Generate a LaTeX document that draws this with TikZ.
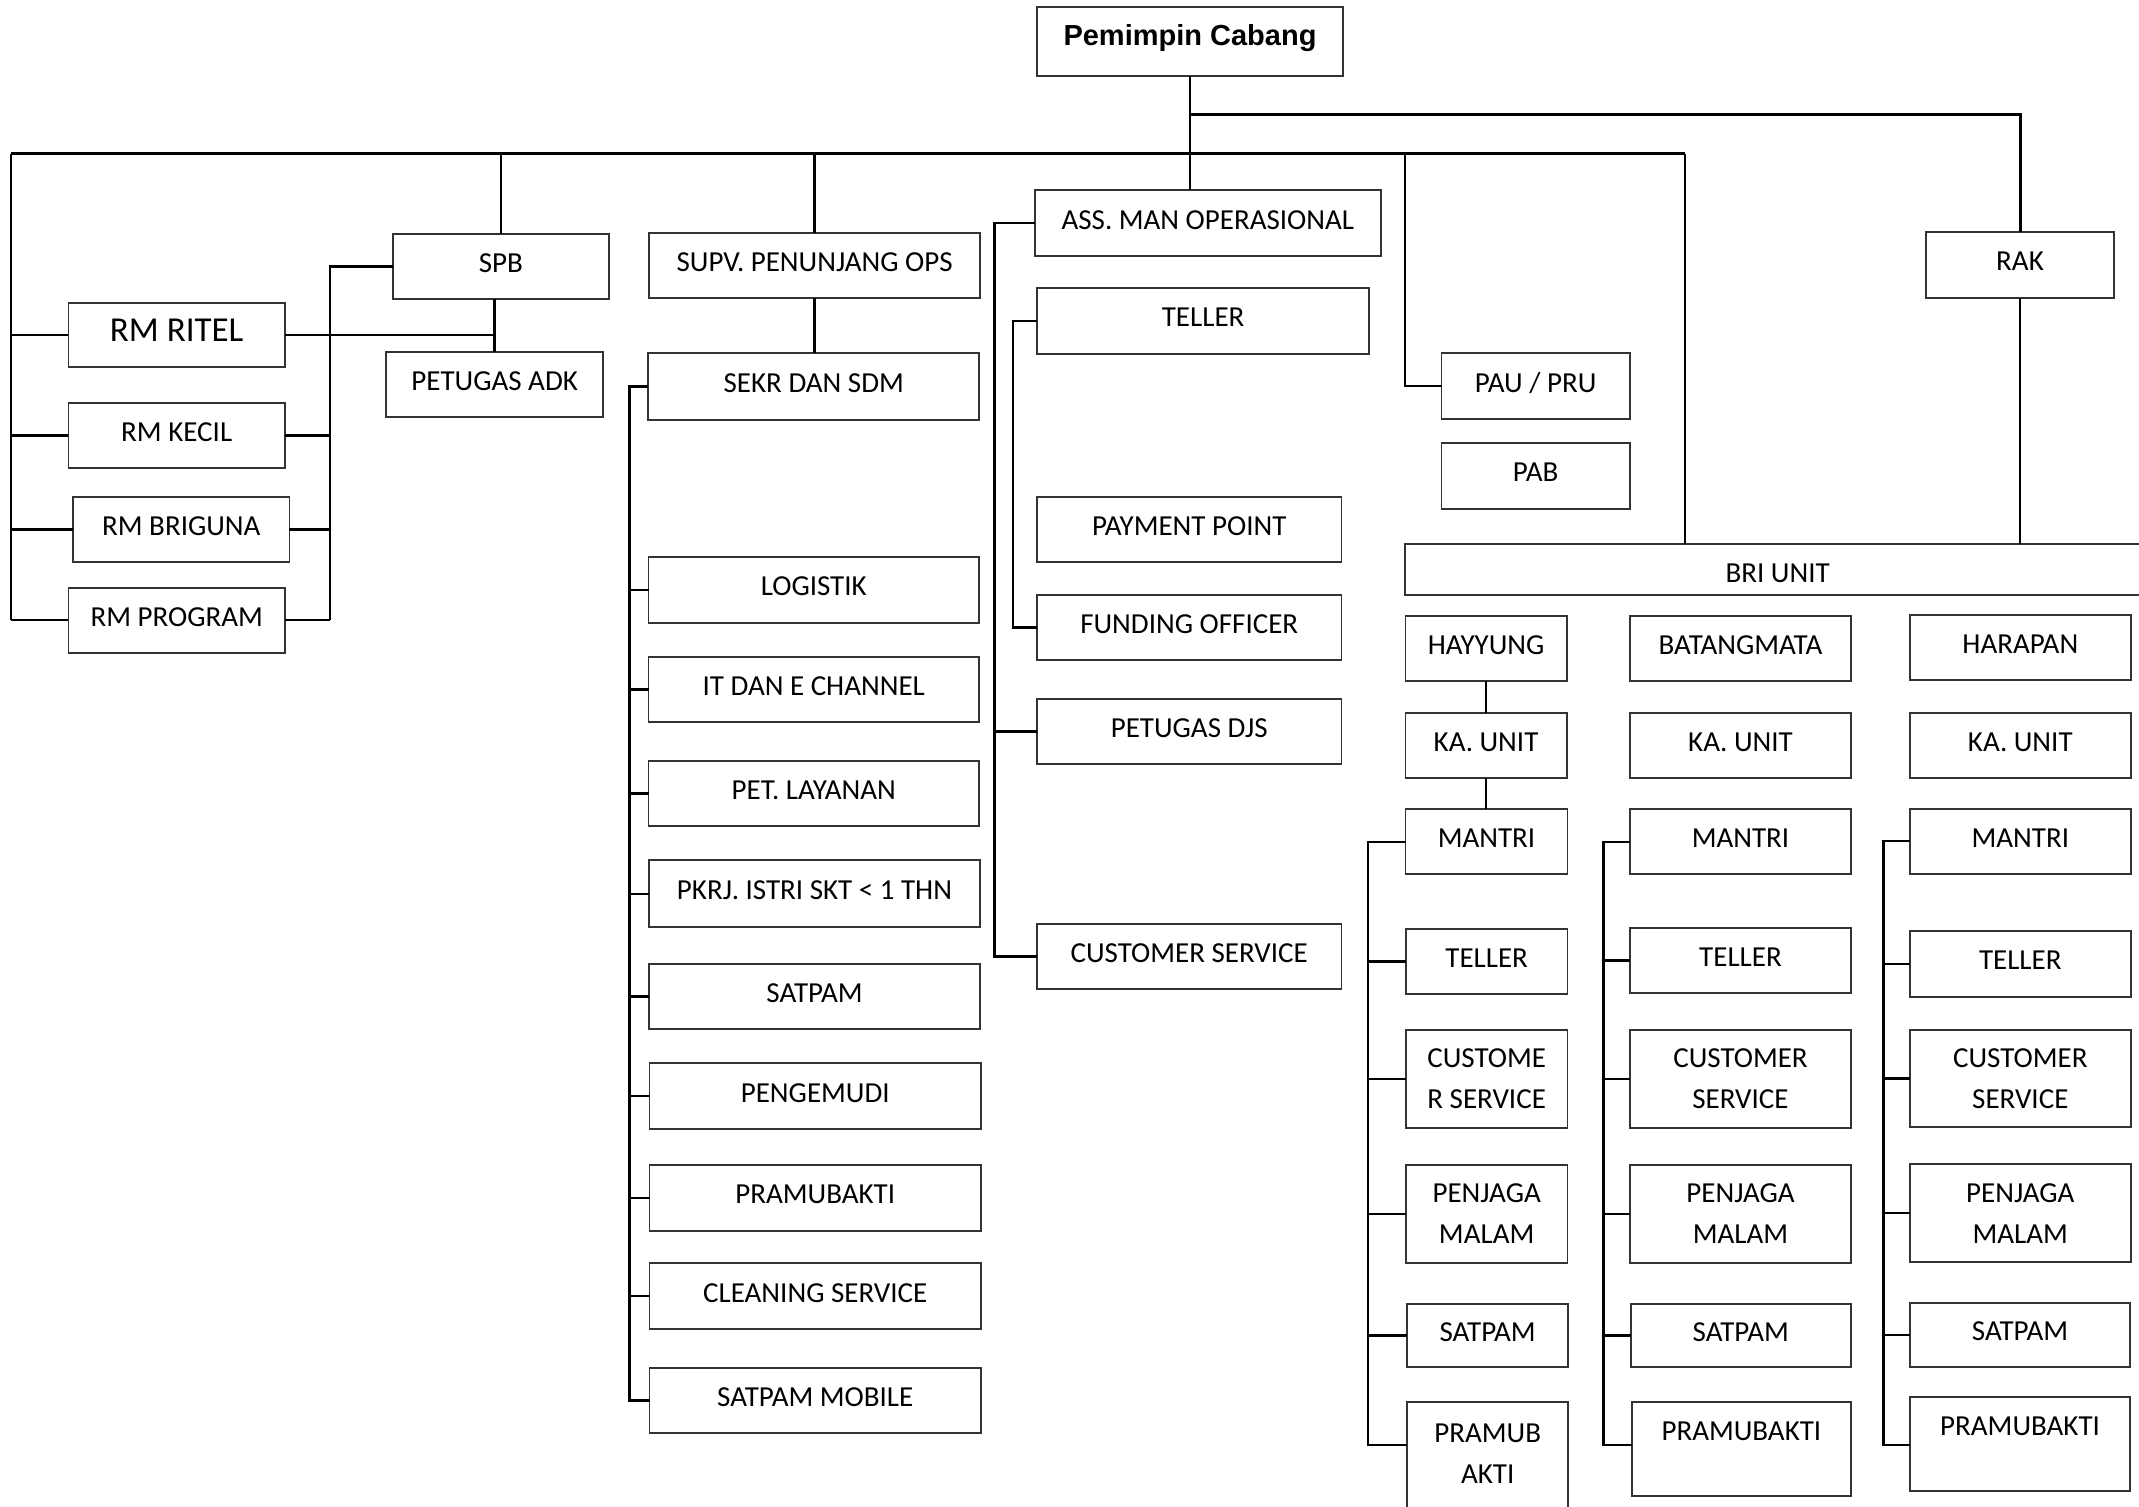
\documentclass[tikz,border=0pt]{standalone}
\usepackage{fontspec}
\setmainfont{Carlito}
\newfontfamily\arialfont{Liberation Sans}
\tikzset{
  box/.style={draw=black!80, line width=1.8pt, fill=white, rectangle, inner sep=0pt, outer sep=0pt,
    font=\fontsize{29}{41}\selectfont, align=center},
  one/.style={text height=18.7pt, text depth=7pt},
  conn/.style={line width=2.4pt, line join=miter},
  bar/.style={line width=3pt, line join=miter},
}
\newcommand\mkbox[7][]{%
  \pgfmathsetmacro\bxw{#5-#3}\pgfmathsetmacro\bxh{#6-#4}%
  \pgfmathsetmacro\bxcx{(#3+#5)/2}\pgfmathsetmacro\bxcy{(#4+#6)/2}%
  \node[box,minimum width=\bxw pt,minimum height=\bxh pt,#1] (#2) at (\bxcx,\bxcy) {#7};}
\begin{document}
\begin{tikzpicture}[x=1pt,y=-1pt]
\useasboundingbox (0,0) rectangle (2139,1507);
% ---------- boxes ----------
\mkbox[font=\arialfont\bfseries\fontsize{29}{33}\selectfont, text height=20.8pt, text depth=12pt]{pc}{1037}{7}{1343}{76}{Pemimpin Cabang}
% left group
\mkbox[font=\fontsize{35}{40}\selectfont, text height=22.5pt, text depth=9pt]{rmritel}{68.4}{303}{285}{366.7}{RM RITEL}
\mkbox[one]{rmkecil}{68.4}{402.7}{285}{468}{RM KECIL}
\mkbox[one]{rmbriguna}{73.2}{497}{289.4}{562}{RM BRIGUNA}
\mkbox[one]{rmprogram}{68.4}{587.7}{285}{652.7}{RM PROGRAM}
\mkbox[one]{spb}{392.6}{234}{609}{299}{SPB}
\mkbox[one]{adk}{386.3}{351.7}{603}{417.3}{PETUGAS ADK}
% support column
\mkbox[one]{supv}{649}{232.7}{980.3}{298.3}{SUPV. PENUNJANG OPS}
\mkbox[one]{sekr}{648.3}{353.3}{979.3}{420}{SEKR DAN SDM}
\mkbox[one]{logistik}{648.5}{557.3}{979}{622.7}{LOGISTIK}
\mkbox[one]{itdan}{648.5}{657}{979}{722.3}{IT DAN E CHANNEL}
\mkbox[one]{petlay}{648.5}{761}{979}{826.3}{PET. LAYANAN}
\mkbox[one]{pkrj}{649}{860.3}{980}{927.3}{PKRJ. ISTRI SKT < 1 THN}
\mkbox[one]{satpamL}{649}{964}{980}{1029.3}{SATPAM}
\mkbox[one]{pengemudi}{649.5}{1063.3}{981}{1129}{PENGEMUDI}
\mkbox[one]{pramuL}{649.5}{1165.3}{981}{1230.7}{PRAMUBAKTI}
\mkbox[one]{cleaning}{649.5}{1263.3}{981}{1329}{CLEANING SERVICE}
\mkbox[one]{satmob}{649.5}{1367.7}{981}{1433}{SATPAM MOBILE}
% operations column
\mkbox[one]{am}{1035}{190.3}{1380.7}{256}{ASS. MAN OPERASIONAL}
\mkbox[one]{tellerO}{1037.3}{288.3}{1369}{353.7}{TELLER}
\mkbox[one]{payment}{1037}{496.7}{1341.5}{562}{PAYMENT POINT}
\mkbox[one]{funding}{1037}{594.7}{1341.5}{660.3}{FUNDING OFFICER}
\mkbox[one]{djs}{1037}{699}{1341.5}{764.3}{PETUGAS DJS}
\mkbox[one]{csO}{1037}{923.7}{1341.5}{989}{CUSTOMER SERVICE}
% right
\mkbox[one]{pau}{1441.5}{353.3}{1629.8}{419}{PAU / PRU}
\mkbox[one]{pab}{1441.5}{443}{1629.8}{508.7}{PAB}
\mkbox[one]{rak}{1926}{232}{2114}{298}{RAK}
\mkbox[text height=26.7pt, text depth=0pt]{bri}{1405.2}{543.7}{2150}{594.7}{BRI UNIT}
% units
\mkbox[one]{hay}{1405.5}{615.7}{1566.6}{680.7}{HAYYUNG}
\mkbox[one]{bat}{1630}{615.7}{1851}{680.7}{BATANGMATA}
\mkbox[one]{har}{1909.8}{614.7}{2130.8}{680}{HARAPAN}
\mkbox[one]{kaH}{1405.5}{712.7}{1566.6}{777.7}{KA. UNIT}
\mkbox[one]{kaB}{1630}{712.7}{1851}{777.7}{KA. UNIT}
\mkbox[one]{kaR}{1909.8}{712.7}{2130.8}{777.7}{KA. UNIT}
\mkbox[one]{mantriH}{1405.5}{809.3}{1567.5}{874.3}{MANTRI}
\mkbox[one]{mantriB}{1630}{809.3}{1851}{874.3}{MANTRI}
\mkbox[one]{mantriR}{1909.8}{808.7}{2130.8}{873.7}{MANTRI}
\mkbox[one]{tellerH}{1405.8}{928.7}{1567.5}{994}{TELLER}
\mkbox[one]{tellerB}{1630}{927.7}{1851}{993.3}{TELLER}
\mkbox[one]{tellerR}{1909.8}{931}{2130.8}{996.7}{TELLER}
\mkbox{csH}{1405.8}{1030}{1567.5}{1128.3}{CUSTOME\\R SERVICE}
\mkbox{csB}{1630}{1030}{1851}{1128.3}{CUSTOMER\\SERVICE}
\mkbox{csR}{1909.8}{1029.7}{2130.8}{1127.3}{CUSTOMER\\SERVICE}
\mkbox{pjH}{1405.8}{1165}{1567.5}{1263}{PENJAGA\\MALAM}
\mkbox{pjB}{1630}{1165}{1851}{1263}{PENJAGA\\MALAM}
\mkbox{pjR}{1909.8}{1164.3}{2130.8}{1262}{PENJAGA\\MALAM}
\mkbox[one]{satH}{1407.3}{1304}{1568}{1367.3}{SATPAM}
\mkbox[one]{satB}{1630.8}{1304}{1850.7}{1367.3}{SATPAM}
\mkbox[one]{satR}{1910}{1303.3}{2130}{1366.7}{SATPAM}
\mkbox{pramuH}{1407.3}{1402.3}{1568}{1530}{PRAMUB\\AKTI\\[-17pt]\mbox{}}
\mkbox[text height=18.7pt, text depth=36pt]{pramuB}{1632}{1402.3}{1850.7}{1496}{PRAMUBAKTI}
\mkbox[text height=18.7pt, text depth=36pt]{pramuR}{1910}{1397.3}{2130}{1491}{PRAMUBAKTI}
% ---------- coordinates ----------
\coordinate (upbar) at (1190,114);
\coordinate (barL) at (10.7,153.7);
\coordinate (barR) at (1685,153.7);
\coordinate (pautop) at (1405.2,153.7);
\coordinate (rbus) at (330.2,0);
\coordinate (lbus) at (629.3,0);
\coordinate (abus) at (994.4,0);
\coordinate (tbus) at (1012.8,0);
\coordinate (hbusend) at (1368,1445);
\coordinate (bbusend) at (1603.5,1445);
\coordinate (rbusend) at (1883.6,1445);
% ---------- connectors ----------
\draw[conn] (pc.south) -- (pc.south |- am.north);
\draw[bar] (upbar) -| (rak.north);
\draw[bar] (barL) -- (barR);
\draw[conn] (barL) -- (barL |- rmprogram.west);
\foreach \n in {rmritel,rmkecil,rmbriguna,rmprogram} \draw[conn] (barL |- \n.west) -- (\n.west);
\draw[conn] (spb.north) -- (spb.north |- barL);
\draw[conn] (supv.north) -- (supv.north |- barL);
\draw[conn] (pautop) |- (pau.west);
\draw[conn] (barR) -- (barR |- bri.north);
\draw[conn] (rak.south) -- (rak.south |- bri.north);
% SPB group
\draw[conn] (spb.west) -| (rbus |- rmprogram.east);
\foreach \n in {rmkecil,rmbriguna,rmprogram} \draw[conn] (\n.east) -- (rbus |- \n.east);
\draw[conn] (rmritel.east) -- (rmritel.east -| adk.north);
\draw[conn] (spb.south -| adk.north) -- (adk.north);
% support column
\draw[conn] (supv.south) -- (supv.south |- sekr.north);
\draw[conn] (sekr.west) -| (lbus |- satmob.west) -- (satmob.west);
\foreach \n in {logistik,itdan,petlay,pkrj,satpamL,pengemudi,pramuL,cleaning} \draw[conn] (lbus |- \n.west) -- (\n.west);
% operations
\draw[conn] (am.west) -| (abus |- csO.west) -- (csO.west);
\draw[conn] (abus |- djs.west) -- (djs.west);
\draw[conn] (tellerO.west) -| (tbus |- funding.west) -- (funding.west);
% units
\draw[conn] (hay.south) -- (hay.south |- kaH.north);
\draw[conn] (kaH.south) -- (kaH.south |- mantriH.north);
\draw[conn] (mantriH.west) -| (hbusend) -- (hbusend -| pramuH.west);
\foreach \n in {tellerH,csH,pjH,satH} \draw[conn] (hbusend |- \n.west) -- (\n.west);
\draw[conn] (mantriB.west) -| (bbusend) -- (bbusend -| pramuB.west);
\foreach \n in {tellerB,csB,pjB,satB} \draw[conn] (bbusend |- \n.west) -- (\n.west);
\draw[conn] (mantriR.west) -| (rbusend) -- (rbusend -| pramuR.west);
\foreach \n in {tellerR,csR,pjR,satR} \draw[conn] (rbusend |- \n.west) -- (\n.west);
\end{tikzpicture}
\end{document}
